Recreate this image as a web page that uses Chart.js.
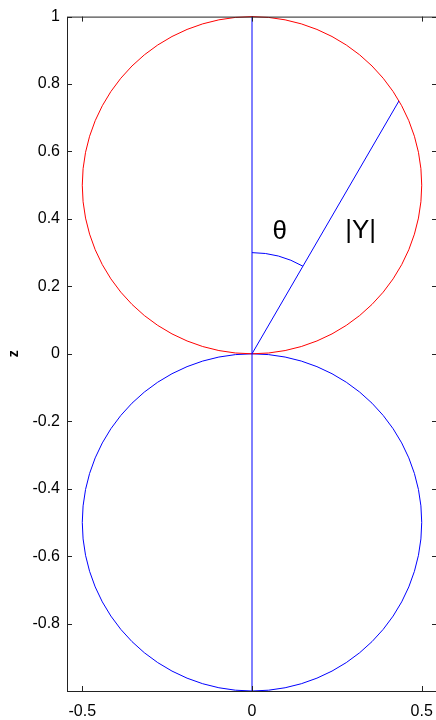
<!DOCTYPE html>
<html>
<head>
<meta charset="utf-8">
<script src="https://cdn.jsdelivr.net/npm/chart.js@4.4.1/dist/chart.umd.min.js"></script>
<style>
  html, body { margin: 0; padding: 0; background: #fff; overflow: hidden; }
  #wrap { position: absolute; left: 0; top: 0; width: 445px; height: 720px; }
</style>
</head>
<body>
<div id="wrap"><canvas id="myChart" width="445" height="720"></canvas></div>
<script>
// axis ticks
var xTicks = [-0.5, 0, 0.5];
var zTicks = [-1, -0.8, -0.6, -0.4, -0.2, 0, 0.2, 0.4, 0.6, 0.8, 1];
var zTickLabels = ['', '-0.8', '-0.6', '-0.4', '-0.2', '0', '0.2', '0.4', '0.6', '0.8', '1'];

// the two lobes |Y| (circles: centre z, radius, colour)
var lobeCenters = [-0.5, 0.5];
var lobeRadius = [0.5, 0.5];
var lobeColors = ['#0000ff', '#ff0000'];

// z axis line and the |Y| radius at theta = 30 deg
var zAxisLine = [{x: 0, y: -1}, {x: 0, y: 1}];
var radiusLine = [{x: 0, y: 0}, {x: 0.433, y: 0.75}];
var thetaDeg = 30;
var thetaArcRadius = 0.3;

// annotations
var annotations = [
  {text: '\u03b8', x: 0.082, y: 0.363},
  {text: '|Y|', x: 0.32, y: 0.366}
];

var plotPlugin = {
  id: 'plotPlugin',
  beforeDatasetsDraw: function(chart) {
    var c = chart.ctx, xs = chart.scales.x, ys = chart.scales.y;
    c.save();
    c.lineWidth = 1;
    for (var i = 0; i < lobeCenters.length; i++) {
      var cx = xs.getPixelForValue(0), cy = ys.getPixelForValue(lobeCenters[i]);
      var rx = xs.getPixelForValue(lobeRadius[i]) - cx;
      var ry = ys.getPixelForValue(0) - ys.getPixelForValue(lobeRadius[i]);
      c.strokeStyle = lobeColors[i];
      c.beginPath();
      c.ellipse(cx, cy, rx, ry, 0, 0, Math.PI * 2);
      c.stroke();
    }
    c.restore();
  },
  afterDatasetsDraw: function(chart) {
    var c = chart.ctx, xs = chart.scales.x, ys = chart.scales.y, a = chart.chartArea;
    c.save();
    // theta arc
    var ox = xs.getPixelForValue(0), oy = ys.getPixelForValue(0);
    var rx = xs.getPixelForValue(thetaArcRadius) - ox;
    var ry = oy - ys.getPixelForValue(thetaArcRadius);
    c.strokeStyle = '#0000ff';
    c.lineWidth = 1;
    c.beginPath();
    c.ellipse(ox, oy, rx, ry, 0, -Math.PI / 2, -Math.PI / 2 + thetaDeg * Math.PI / 180);
    c.stroke();

    // text
    c.fillStyle = '#000';
    c.font = '26px "Liberation Sans", Arial, sans-serif';
    c.textAlign = 'center';
    c.textBaseline = 'middle';
    annotations.forEach(function(t) {
      c.fillText(t.text, xs.getPixelForValue(t.x), ys.getPixelForValue(t.y));
    });

    // frame + inward ticks
    c.strokeStyle = '#222';
    c.lineWidth = 1;
    c.strokeRect(a.left + 0.5, a.top + 0.5, a.right - a.left, a.bottom - a.top);
    c.beginPath();
    zTicks.forEach(function(v) {
      var y = Math.round(ys.getPixelForValue(v)) + 0.5;
      c.moveTo(a.left, y); c.lineTo(a.left + 5, y);
      c.moveTo(a.right, y); c.lineTo(a.right - 5, y);
    });
    xTicks.forEach(function(v) {
      var x = Math.round(xs.getPixelForValue(v)) + 0.5;
      c.moveTo(x, a.bottom); c.lineTo(x, a.bottom - 5);
      c.moveTo(x, a.top); c.lineTo(x, a.top + 5);
    });
    c.stroke();
    c.restore();
  }
};

var ctx = document.getElementById('myChart').getContext('2d');
var myChart = new Chart(ctx, {
  type: 'scatter',
  data: {
    datasets: [{
      data: zAxisLine,
      showLine: true,
      borderColor: '#0000ff',
      borderWidth: 1,
      pointRadius: 0
    }, {
      data: radiusLine,
      showLine: true,
      borderColor: '#0000ff',
      borderWidth: 1,
      pointRadius: 0
    }]
  },
  options: {
    responsive: false,
    animation: false,
    layout: { padding: { top: 13, right: 8, left: 0, bottom: 0 } },
    plugins: { legend: { display: false }, tooltip: { enabled: false } },
    scales: {
      x: {
        type: 'linear',
        min: -0.545,
        max: 0.545,
        grid: { display: false, drawTicks: false },
        border: { display: false },
        afterBuildTicks: function(s) { s.ticks = xTicks.map(function(v) { return {value: v}; }); },
        afterFit: function(s) { s.height = 29; },
        ticks: {
          padding: 11,
          color: '#000',
          maxRotation: 0,
          font: { family: '"Liberation Sans", Arial, sans-serif', size: 16 },
          callback: function(v) { return String(v); }
        }
      },
      y: {
        type: 'linear',
        min: -1,
        max: 1,
        grid: { display: false, drawTicks: false },
        border: { display: false },
        afterBuildTicks: function(s) { s.ticks = zTicks.map(function(v) { return {value: v}; }); },
        afterFit: function(s) { s.width = 67; },
        title: {
          display: true,
          text: 'z',
          color: '#000',
          font: { family: '"Liberation Sans", Arial, sans-serif', size: 14, weight: 'bold' },
          padding: { top: 6, bottom: 0 }
        },
        ticks: {
          padding: 7,
          color: '#000',
          font: { family: '"Liberation Sans", Arial, sans-serif', size: 16 },
          callback: function(v, i) { return zTickLabels[i]; }
        }
      }
    }
  },
  plugins: [plotPlugin]
});
</script>
</body>
</html>
